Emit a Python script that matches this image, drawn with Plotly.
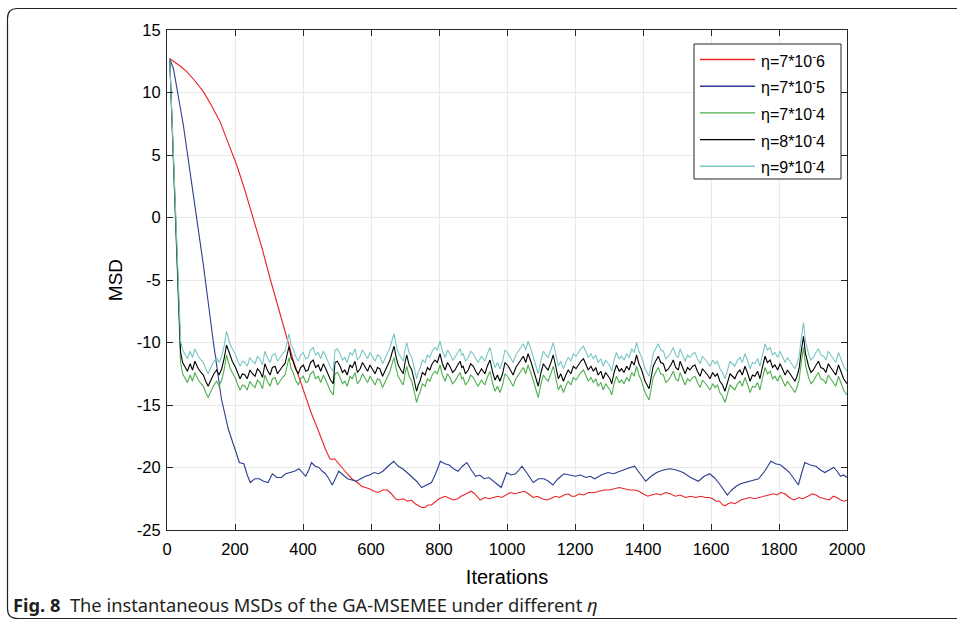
import plotly.graph_objects as go

# ---------------- data ----------------
band_iters = [
    8, 20, 32, 40, 46, 53, 60, 68, 75, 82,
    92, 100, 107, 114, 121, 131, 138, 146, 153, 161,
    168, 175, 180, 185, 192, 200, 207, 215, 222, 229,
    236, 244, 251, 259, 266, 273, 281, 288, 295, 303,
    310, 318, 325, 332, 340, 347, 353, 359, 365, 371,
    378, 386, 393, 401, 408, 415, 422, 430, 437, 445,
    452, 460, 467, 474, 481, 489, 494, 501, 509, 516,
    523, 530, 538, 545, 553, 560, 568, 575, 582, 590,
    597, 605, 612, 619, 626, 634, 641, 648, 656, 662,
    668, 674, 680, 688, 695, 700, 705, 712, 720, 727,
    734, 739, 744, 751, 759, 766, 773, 780, 788, 795,
    803, 810, 818, 825, 832, 840, 847, 855, 862, 867,
    871, 878, 886, 893, 901, 908, 915, 925, 935, 942,
    950, 958, 965, 972, 979, 987, 994, 1004, 1011, 1018,
    1026, 1033, 1040, 1048, 1055, 1062, 1070, 1077, 1085, 1092,
    1100, 1107, 1114, 1121, 1129, 1136, 1144, 1151, 1158, 1166,
    1173, 1180, 1188, 1195, 1203, 1210, 1217, 1225, 1232, 1239,
    1247, 1254, 1261, 1268, 1276, 1283, 1290, 1298, 1303, 1308,
    1315, 1322, 1330, 1337, 1344, 1352, 1359, 1367, 1374, 1381,
    1388, 1396, 1401, 1406, 1412, 1418, 1424, 1430, 1437, 1445,
    1452, 1460, 1467, 1475, 1482, 1489, 1496, 1504, 1509, 1516,
    1524, 1531, 1538, 1546, 1553, 1560, 1568, 1575, 1582, 1590,
    1597, 1605, 1612, 1619, 1626, 1634, 1641, 1648, 1656, 1663,
    1670, 1678, 1685, 1692, 1700, 1707, 1715, 1722, 1729, 1737,
    1744, 1751, 1759, 1766, 1774, 1781, 1788, 1796, 1803, 1810,
    1818, 1825, 1832, 1840, 1847, 1853, 1859, 1865, 1872, 1878,
    1887, 1894, 1901, 1909, 1916, 1923, 1931, 1938, 1945, 1952,
    1960, 1967, 1975, 1982, 1990, 2000,
]

msd_eta_7e4 = [
    12.7, 3.8, -6.4, -11.6, -12.5, -12.8, -13.2, -12.6, -13.1, -12.4,
    -13.0, -13.3, -13.5, -14.0, -14.4, -13.8, -13.4, -13.1, -13.5, -13.0,
    -12.2, -11.0, -11.5, -12.0, -12.4, -12.8, -13.3, -13.8, -13.4, -13.5,
    -13.8, -13.1, -13.4, -13.6, -13.0, -13.2, -13.7, -12.6, -13.1, -13.5,
    -12.9, -12.8, -13.4, -13.1, -12.8, -12.6, -12.0, -11.2, -12.1, -12.4,
    -13.0, -13.4, -12.9, -12.7, -13.2, -13.1, -12.5, -12.3, -12.9, -12.7,
    -13.2, -12.6, -13.0, -13.5, -13.9, -14.2, -12.5, -12.4, -12.8, -13.3,
    -13.1, -13.5, -12.7, -12.9, -12.4, -13.3, -13.0, -12.5, -12.8, -13.2,
    -12.7, -13.1, -13.4, -12.9, -13.0, -13.6, -13.2, -12.8, -12.3, -11.7,
    -11.2, -12.1, -12.7, -13.1, -13.4, -12.5, -11.9, -12.7, -13.1, -13.9,
    -14.8, -14.3, -14.0, -13.3, -13.5, -12.9, -13.1, -12.6, -12.3, -12.5,
    -11.8, -12.6, -13.1, -12.5, -12.8, -13.3, -13.1, -12.7, -12.4, -12.9,
    -12.8, -13.4, -13.1, -12.6, -12.8, -13.2, -13.5, -13.0, -13.4, -12.8,
    -12.3, -13.3, -13.9, -13.5, -14.0, -13.4, -12.5, -12.8, -13.2, -13.5,
    -12.9, -12.6, -12.3, -12.0, -12.5, -11.8, -12.4, -13.1, -13.8, -14.4,
    -13.3, -12.6, -12.9, -13.1, -12.5, -11.9, -12.9, -13.8, -13.4, -14.0,
    -13.5, -13.1, -13.4, -12.8, -13.0, -12.7, -12.4, -12.2, -12.7, -13.1,
    -12.8, -13.2, -12.9, -13.5, -13.2, -13.8, -13.3, -13.6, -13.8, -14.2,
    -13.3, -12.7, -13.2, -13.0, -13.3, -12.8, -13.1, -12.4, -12.7, -11.9,
    -12.6, -13.1, -13.6, -14.0, -14.3, -14.6, -13.7, -12.8, -12.4, -12.0,
    -12.5, -12.6, -13.2, -13.0, -12.7, -12.3, -12.9, -13.1, -12.4, -12.9,
    -13.4, -12.9, -13.1, -12.8, -12.7, -13.2, -13.6, -13.0, -13.2, -13.5,
    -13.8, -13.3, -13.6, -13.4, -14.0, -14.3, -14.8, -14.1, -13.4, -13.6,
    -13.8, -13.3, -13.1, -13.5, -12.8, -13.3, -14.0, -13.5, -13.6, -13.2,
    -13.8, -12.9, -12.0, -12.5, -12.3, -12.9, -12.7, -13.1, -12.6, -13.0,
    -13.5, -13.1, -13.4, -13.7, -14.0, -13.6, -13.0, -11.7, -10.4, -11.8,
    -12.8, -13.3, -13.1, -12.7, -12.4, -12.9, -13.0, -13.3, -12.6, -12.9,
    -13.2, -13.5, -12.7, -13.3, -13.8, -14.2,
]

msd_eta_8e4 = [
    12.7, 4.0, -6.0, -10.8, -11.6, -11.9, -12.3, -11.7, -12.2, -11.5,
    -12.1, -12.4, -12.6, -13.1, -13.5, -12.9, -12.5, -12.2, -12.6, -12.1,
    -11.3, -10.2, -10.6, -11.1, -11.5, -11.9, -12.4, -12.9, -12.5, -12.6,
    -12.9, -12.2, -12.5, -12.7, -12.1, -12.3, -12.8, -11.7, -12.2, -12.6,
    -12.0, -11.9, -12.5, -12.2, -11.9, -11.7, -11.1, -10.3, -11.2, -11.5,
    -12.1, -12.5, -12.0, -11.8, -12.3, -12.2, -11.6, -11.4, -12.0, -11.8,
    -12.3, -11.7, -12.1, -12.6, -13.0, -13.3, -11.6, -11.5, -11.9, -12.4,
    -12.2, -12.6, -11.8, -12.0, -11.5, -12.4, -12.1, -11.6, -11.9, -12.3,
    -11.8, -12.2, -12.5, -12.0, -12.1, -12.7, -12.3, -11.9, -11.4, -10.8,
    -10.3, -11.2, -11.8, -12.2, -12.5, -11.6, -11.0, -11.8, -12.2, -13.0,
    -13.9, -13.4, -13.1, -12.4, -12.6, -12.0, -12.2, -11.7, -11.4, -11.6,
    -10.9, -11.7, -12.2, -11.6, -11.9, -12.4, -12.2, -11.8, -11.5, -12.0,
    -11.9, -12.5, -12.2, -11.7, -11.9, -12.3, -12.6, -12.1, -12.5, -11.9,
    -11.4, -12.4, -13.0, -12.6, -13.1, -12.5, -11.6, -11.9, -12.3, -12.6,
    -12.0, -11.7, -11.4, -11.1, -11.6, -10.9, -11.5, -12.2, -12.9, -13.5,
    -12.4, -11.7, -12.0, -12.2, -11.6, -11.0, -12.0, -12.9, -12.5, -13.1,
    -12.6, -12.2, -12.5, -11.9, -12.1, -11.8, -11.5, -11.3, -11.8, -12.2,
    -11.9, -12.3, -12.0, -12.6, -12.3, -12.9, -12.4, -12.7, -12.9, -13.3,
    -12.4, -11.8, -12.3, -12.1, -12.4, -11.9, -12.2, -11.5, -11.8, -11.0,
    -11.7, -12.2, -12.7, -13.1, -13.4, -13.7, -12.8, -11.9, -11.5, -11.1,
    -11.6, -11.7, -12.3, -12.1, -11.8, -11.4, -12.0, -12.2, -11.5, -12.0,
    -12.5, -12.0, -12.2, -11.9, -11.8, -12.3, -12.7, -12.1, -12.3, -12.6,
    -12.9, -12.4, -12.7, -12.5, -13.1, -13.4, -13.9, -13.2, -12.5, -12.7,
    -12.9, -12.4, -12.2, -12.6, -11.9, -12.4, -13.1, -12.6, -12.7, -12.3,
    -12.9, -12.0, -11.1, -11.6, -11.4, -12.0, -11.8, -12.2, -11.7, -12.1,
    -12.6, -12.2, -12.5, -12.8, -13.1, -12.7, -12.1, -10.8, -9.5, -10.9,
    -11.9, -12.4, -12.2, -11.8, -11.5, -12.0, -12.1, -12.4, -11.7, -12.0,
    -12.3, -12.6, -11.8, -12.4, -12.9, -13.3,
]

msd_eta_9e4 = [
    12.7, 4.3, -5.6, -9.9, -10.6, -10.9, -11.3, -10.7, -11.2, -10.5,
    -11.1, -11.4, -11.6, -12.1, -12.5, -11.9, -11.5, -11.2, -11.6, -11.1,
    -10.3, -9.1, -9.6, -10.1, -10.5, -10.9, -11.4, -11.9, -11.5, -11.6,
    -11.9, -11.2, -11.5, -11.7, -11.1, -11.3, -11.8, -10.7, -11.2, -11.6,
    -11.0, -10.9, -11.5, -11.2, -10.9, -10.7, -10.1, -9.3, -10.2, -10.5,
    -11.1, -11.5, -11.0, -10.8, -11.3, -11.2, -10.6, -10.4, -11.0, -10.8,
    -11.3, -10.7, -11.1, -11.6, -12.0, -12.3, -10.6, -10.5, -10.9, -11.4,
    -11.2, -11.6, -10.8, -11.0, -10.5, -11.4, -11.1, -10.6, -10.9, -11.3,
    -10.8, -11.2, -11.5, -11.0, -11.1, -11.7, -11.3, -10.9, -10.4, -9.8,
    -9.3, -10.2, -10.8, -11.2, -11.5, -10.6, -10.0, -10.8, -11.2, -12.0,
    -12.9, -12.4, -12.1, -11.4, -11.6, -11.0, -11.2, -10.7, -10.4, -10.6,
    -9.9, -10.7, -11.2, -10.6, -10.9, -11.4, -11.2, -10.8, -10.5, -11.0,
    -10.9, -11.5, -11.2, -10.7, -10.9, -11.3, -11.6, -11.1, -11.5, -10.9,
    -10.4, -11.4, -12.0, -11.6, -12.1, -11.5, -10.6, -10.9, -11.3, -11.6,
    -11.0, -10.7, -10.4, -10.1, -10.6, -9.9, -10.5, -11.2, -11.9, -12.5,
    -11.4, -10.7, -11.0, -11.2, -10.6, -10.0, -11.0, -11.9, -11.5, -12.1,
    -11.6, -11.2, -11.5, -10.9, -11.1, -10.8, -10.5, -10.3, -10.8, -11.2,
    -10.9, -11.3, -11.0, -11.6, -11.3, -11.9, -11.4, -11.7, -11.9, -12.3,
    -11.4, -10.8, -11.3, -11.1, -11.4, -10.9, -11.2, -10.5, -10.8, -10.0,
    -10.7, -11.2, -11.7, -12.1, -12.4, -12.7, -11.8, -10.9, -10.5, -10.1,
    -10.6, -10.7, -11.3, -11.1, -10.8, -10.4, -11.0, -11.2, -10.5, -11.0,
    -11.5, -11.0, -11.2, -10.9, -10.8, -11.3, -11.7, -11.1, -11.3, -11.6,
    -11.9, -11.4, -11.7, -11.5, -12.1, -12.4, -12.9, -12.2, -11.5, -11.7,
    -11.9, -11.4, -11.2, -11.6, -10.9, -11.4, -12.1, -11.6, -11.7, -11.3,
    -11.9, -11.0, -10.1, -10.6, -10.4, -11.0, -10.8, -11.2, -10.7, -11.1,
    -11.6, -11.2, -11.5, -11.8, -12.1, -11.7, -11.1, -9.8, -8.4, -9.9,
    -10.9, -11.4, -11.2, -10.8, -10.5, -11.0, -11.1, -11.4, -10.7, -11.0,
    -11.3, -11.6, -10.8, -11.4, -11.9, -12.3,
]

msd_eta_7e6 = [
    (8, 12.7), (20, 12.5), (40, 12.1), (58, 11.67), (80, 11.0), (107, 10.07),
    (130, 9.0), (156, 7.67), (180, 6.0), (205, 4.2), (230, 2.1), (254, -0.07),
    (280, -2.5), (303, -4.86), (328, -7.3), (352, -9.67), (372, -11.5), (391, -13.0),
    (410, -14.6), (425, -15.7), (440, -16.7), (455, -17.8), (467, -18.6), (479, -19.3),
    (486, -19.35), (493, -19.3), (499, -19.5), (509, -19.8), (518, -20.1), (530, -20.5),
    (544, -20.9), (560, -21.2), (572, -21.5), (583, -21.6), (595, -21.7), (609, -21.9),
    (620, -22.0), (635, -21.8), (648, -21.8), (660, -22.1), (672, -22.5), (681, -22.6),
    (695, -22.5), (707, -22.7), (719, -22.6), (730, -22.9), (741, -23.1), (749, -23.2),
    (758, -23.2), (768, -23.0), (778, -23.0), (790, -22.7), (800, -22.5), (810, -22.4),
    (817, -22.3), (826, -22.4), (835, -22.5), (843, -22.6), (855, -22.5), (865, -22.3),
    (880, -22.1), (895, -21.9), (905, -22.1), (913, -22.4), (921, -22.6), (935, -22.4),
    (948, -22.5), (960, -22.4), (972, -22.3), (985, -22.4), (999, -22.2), (1010, -22.0),
    (1022, -22.1), (1035, -22.0), (1051, -21.9), (1063, -22.1), (1077, -22.4), (1090, -22.3),
    (1103, -22.5), (1116, -22.6), (1128, -22.5), (1142, -22.3), (1155, -22.4), (1168, -22.2),
    (1180, -22.1), (1190, -22.3), (1200, -22.3), (1212, -22.1), (1225, -22.2), (1240, -22.0),
    (1258, -22.0), (1270, -21.9), (1285, -21.8), (1300, -21.8), (1315, -21.7), (1330, -21.6),
    (1345, -21.7), (1360, -21.8), (1375, -21.8), (1388, -21.9), (1400, -22.1), (1414, -22.3),
    (1425, -22.2), (1440, -22.1), (1452, -22.2), (1466, -22.0), (1480, -22.1), (1495, -22.3),
    (1510, -22.2), (1525, -22.4), (1540, -22.3), (1555, -22.4), (1570, -22.3), (1583, -22.4),
    (1595, -22.4), (1605, -22.5), (1615, -22.7), (1625, -22.7), (1635, -23.0), (1642, -23.05),
    (1650, -22.9), (1660, -22.8), (1670, -22.9), (1680, -22.7), (1688, -22.6), (1700, -22.5),
    (1715, -22.4), (1728, -22.5), (1740, -22.4), (1755, -22.3), (1770, -22.2), (1785, -22.1),
    (1795, -22.2), (1805, -22.0), (1818, -22.1), (1830, -22.4), (1844, -22.6), (1858, -22.4),
    (1870, -22.5), (1885, -22.3), (1898, -22.1), (1909, -22.2), (1920, -22.4), (1935, -22.5),
    (1948, -22.6), (1960, -22.3), (1970, -22.4), (1982, -22.6), (1992, -22.7), (2000, -22.6),
]

msd_eta_7e5 = [
    (8, 12.7), (19, 11.9), (48, 7.4), (77, 2.07), (107, -3.8), (136, -9.9),
    (160, -14.5), (180, -16.9), (200, -18.5), (213, -19.6), (226, -19.7), (236, -20.6),
    (245, -21.2), (258, -20.9), (271, -20.9), (284, -21.1), (297, -21.2), (310, -20.5),
    (323, -20.8), (336, -20.8), (349, -20.5), (362, -20.4), (375, -20.3), (388, -20.1),
    (398, -20.4), (408, -20.7), (417, -20.2), (425, -19.6), (436, -19.9), (447, -20.0),
    (457, -20.3), (466, -20.5), (476, -20.9), (486, -21.4), (495, -20.9), (505, -20.3),
    (518, -20.6), (531, -20.9), (544, -21.0), (557, -21.1), (570, -20.9), (583, -20.7),
    (596, -20.6), (609, -20.4), (622, -20.5), (635, -20.3), (650, -19.9), (667, -19.5),
    (680, -19.9), (693, -20.1), (706, -20.4), (719, -20.7), (734, -21.1), (749, -21.6),
    (764, -21.4), (778, -21.2), (790, -20.5), (804, -19.5), (817, -19.7), (830, -19.8),
    (843, -20.1), (856, -20.3), (869, -19.9), (882, -19.6), (895, -20.2), (908, -20.7),
    (920, -20.6), (933, -20.9), (947, -20.8), (965, -21.2), (983, -21.6), (991, -21.0),
    (999, -20.4), (1012, -20.6), (1025, -20.5), (1035, -20.2), (1044, -19.9), (1060, -20.5),
    (1077, -21.2), (1093, -20.9), (1109, -20.9), (1122, -21.1), (1135, -21.4), (1150, -20.9),
    (1168, -20.5), (1184, -20.6), (1200, -20.7), (1216, -20.6), (1233, -20.8), (1245, -20.7),
    (1258, -20.9), (1277, -20.6), (1297, -20.4), (1313, -20.5), (1330, -20.3), (1352, -20.1),
    (1375, -19.9), (1392, -20.5), (1408, -21.1), (1424, -20.7), (1440, -20.4), (1460, -20.2),
    (1479, -20.1), (1498, -20.2), (1518, -20.4), (1540, -20.8), (1563, -21.1), (1580, -20.7),
    (1596, -20.5), (1609, -20.8), (1622, -21.2), (1635, -21.7), (1648, -22.2), (1661, -21.8),
    (1674, -21.5), (1687, -21.3), (1700, -21.2), (1720, -21.1), (1740, -20.9), (1758, -20.3),
    (1776, -19.5), (1790, -19.7), (1805, -19.8), (1818, -20.1), (1831, -20.4), (1844, -20.9),
    (1857, -21.4), (1866, -20.5), (1876, -19.6), (1892, -19.8), (1909, -19.9), (1922, -20.2),
    (1935, -20.4), (1948, -20.2), (1961, -20.0), (1971, -20.3), (1981, -20.7), (1990, -20.6),
    (2000, -20.8),
]

x_ticks = [0, 200, 400, 600, 800, 1000, 1200, 1400, 1600, 1800, 2000]
x_tick_labels = ["0", "200", "400", "600", "800", "1000", "1200", "1400", "1600", "1800", "2000"]
y_ticks = [15, 10, 5, 0, -5, -10, -15, -20, -25]
y_tick_labels = ["15", "10", "5", "0", "-5", "-10", "-15", "-20", "-25"]

legend_labels = [
    "η=7*10<sup>-</sup>6",
    "η=7*10<sup>-</sup>5",
    "η=7*10<sup>-</sup>4",
    "η=8*10<sup>-</sup>4",
    "η=9*10<sup>-</sup>4",
]
colors = ["#ec2227", "#2a3d8f", "#4fae4f", "#000000", "#79c6c6"]

FONT = "Arial, Liberation Sans, Helvetica, sans-serif"

# ---------------- figure ----------------
W, H = 957, 623
L, R, T, B = 167, 847, 30, 530   # plot area in pixels


def px(xp):
    return (xp - L) / (R - L)


def py(yp):
    return (B - yp) / (B - T)


fig = go.Figure()

red_x = [p[0] for p in msd_eta_7e6]
red_y = [p[1] for p in msd_eta_7e6]
blue_x = [p[0] for p in msd_eta_7e5]
blue_y = [p[1] for p in msd_eta_7e5]

series = [
    (red_x, red_y),
    (blue_x, blue_y),
    (band_iters[:len(msd_eta_7e4)], msd_eta_7e4[:len(band_iters)]),
    (band_iters[:len(msd_eta_8e4)], msd_eta_8e4[:len(band_iters)]),
    (band_iters[:len(msd_eta_9e4)], msd_eta_9e4[:len(band_iters)]),
]
for (xs, ys), c, name in zip(series, colors, legend_labels):
    fig.add_trace(go.Scatter(x=xs, y=ys, mode="lines", name=name,
                             line=dict(color=c, width=1.1), showlegend=False))

axis_common = dict(
    showline=True, linecolor="#262626", linewidth=1, mirror="allticks",
    ticks="inside", ticklen=6, tickcolor="#262626", tickwidth=1,
    showgrid=True, gridcolor="#e9e9e9", gridwidth=1, zeroline=False,
    tickfont=dict(family=FONT, size=16.5, color="#000"),
)

fig.update_layout(
    width=W, height=H,
    margin=dict(l=L, r=W - R, t=T, b=H - B),
    paper_bgcolor="white", plot_bgcolor="white",
    xaxis=dict(range=[0, 2000], tickvals=x_ticks, ticktext=x_tick_labels,
               ticklabelstandoff=4, **axis_common,
               title=dict(text="Iterations", standoff=13,
                          font=dict(family=FONT, size=20, color="#000"))),
    yaxis=dict(range=[-25, 15], tickvals=y_ticks, ticktext=y_tick_labels,
               ticklabelstandoff=2, **axis_common,
               title=dict(text="MSD", standoff=9,
                          font=dict(family=FONT, size=19, color="#000"))),
)

shapes = []
annotations = []

# legend box
lx0, lx1, ly0, ly1 = 694, 841, 44, 179
shapes.append(dict(type="rect", xref="paper", yref="paper",
                   x0=px(lx0), x1=px(lx1), y0=py(ly1), y1=py(ly0),
                   line=dict(color="#262626", width=1), fillcolor="white", layer="above"))
entry_y = [59.5, 86.2, 112.9, 139.6, 166.3]
for yy, c, name in zip(entry_y, colors, legend_labels):
    shapes.append(dict(type="line", xref="paper", yref="paper",
                       x0=px(700), x1=px(755), y0=py(yy), y1=py(yy),
                       line=dict(color=c, width=1.4), layer="above"))
    annotations.append(dict(xref="paper", yref="paper", x=px(759), y=py(yy),
                            xanchor="left", yanchor="middle", showarrow=False,
                            text=name,
                            font=dict(family=FONT, size=16, color="#000")))

# outer rounded frame
fx0, fy0, fx1, fy1, rr = 7.5, 8.5, 960, 618.5, 10
path = (f"M {px(fx1)},{py(fy0)} L {px(fx0 + rr)},{py(fy0)} "
        f"Q {px(fx0)},{py(fy0)} {px(fx0)},{py(fy0 + rr)} "
        f"L {px(fx0)},{py(fy1 - rr)} "
        f"Q {px(fx0)},{py(fy1)} {px(fx0 + rr)},{py(fy1)} "
        f"L {px(fx1)},{py(fy1)}")
shapes.append(dict(type="path", xref="paper", yref="paper", path=path,
                   line=dict(color="#222", width=1.2)))

# caption
annotations.append(dict(
    xref="paper", yref="paper", x=px(11), y=py(604),
    xanchor="left", yanchor="middle", showarrow=False,
    text="<b>Fig. 8</b>&nbsp;&nbsp;The instantaneous MSDs of the GA-MSEMEE under different <i>η</i>",
    font=dict(family="Noto Sans, Open Sans, sans-serif", size=18.3, color="#231f20")))

fig.update_layout(shapes=shapes, annotations=annotations)

fig.write_html("out.html")
